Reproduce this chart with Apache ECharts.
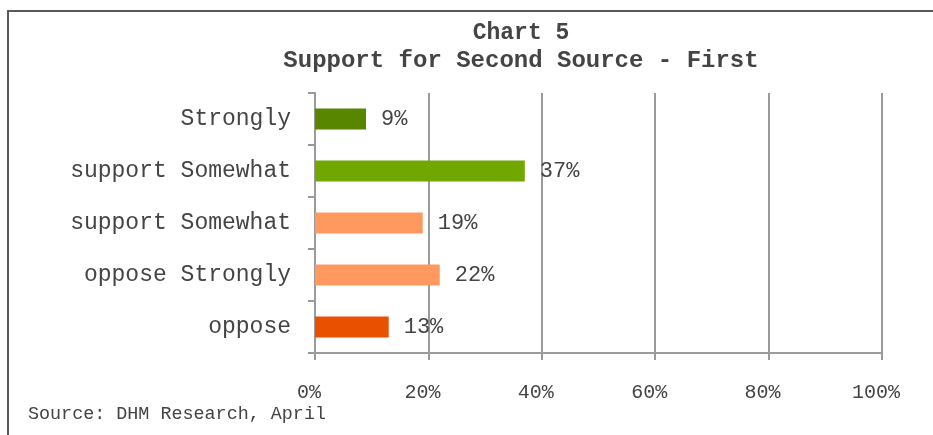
<!DOCTYPE html>
<html>
<head>
<meta charset="utf-8">
<script src="https://cdn.jsdelivr.net/npm/echarts@6/dist/echarts.min.js"></script>
<style>
  html, body { margin: 0; padding: 0; background: #fff; }
  #chart { width: 933px; height: 435px; }
</style>
</head>
<body>
<div id="chart"></div>
<script>
// Survey responses, top to bottom
const categories = ['Strongly', 'support Somewhat', 'support Somewhat', 'oppose Strongly', 'oppose'];
const values = [9, 37, 19, 22, 13];
const barColors = ['#588600', '#70a800', '#ff9960', '#ff9960', '#e95000'];
const xTicks = [0, 20, 40, 60, 80, 100];

const FONT = '"Liberation Mono", "Courier New", monospace';
const TEXT = '#444';
const AXIS = '#9a9a9a';

const chart = echarts.init(document.getElementById('chart'), null, { renderer: 'canvas' });

chart.setOption({
  animation: false,
  backgroundColor: '#fff',
  title: [
    {
      text: 'Chart 5',
      left: 516, top: 17, textAlign: 'center',
      textStyle: { fontFamily: FONT, fontWeight: 'bold', fontSize: 23, color: TEXT }
    },
    {
      text: 'Support for Second Source - First',
      left: 516, top: 44, textAlign: 'center',
      textStyle: { fontFamily: FONT, fontWeight: 'bold', fontSize: 24, color: TEXT }
    }
  ],
  graphic: [
    {
      type: 'rect', silent: true, z: -1,
      shape: { x: 8, y: 11, width: 1000, height: 500 },
      style: { fill: 'none', stroke: '#5a5a5a', lineWidth: 2 }
    },
    {
      type: 'text', left: 28, top: 405,
      style: { text: 'Source: DHM Research, April', font: '18.4px ' + FONT, fill: TEXT }
    }
  ],
  grid: { left: 315, right: 51, top: 93, bottom: 82, containLabel: false },
  xAxis: {
    type: 'value',
    min: xTicks[0], max: xTicks[xTicks.length - 1], interval: 20,
    axisLine: { show: true, lineStyle: { color: AXIS, width: 2 } },
    axisTick: { show: true, length: 7, lineStyle: { color: AXIS, width: 2 } },
    splitLine: { show: true, lineStyle: { color: AXIS, width: 2 } },
    axisLabel: {
      margin: 30, fontFamily: FONT, fontSize: 20, color: TEXT,
      padding: [0, 12, 0, 0],
      formatter: v => v + '%'
    }
  },
  yAxis: {
    type: 'category',
    inverse: true,
    data: categories,
    axisLine: { show: true, lineStyle: { color: AXIS, width: 2 } },
    axisTick: { show: true, length: 7, lineStyle: { color: AXIS, width: 2 } },
    axisLabel: { margin: 24, fontFamily: FONT, fontSize: 23, color: TEXT }
  },
  series: [{
    type: 'bar',
    barWidth: 21,
    data: values.map((v, i) => ({ value: v, itemStyle: { color: barColors[i] } })),
    label: {
      show: true, position: 'right', distance: 15,
      fontFamily: FONT, fontSize: 22, color: TEXT,
      formatter: p => p.value + '%'
    }
  }]
});
</script>
</body>
</html>
